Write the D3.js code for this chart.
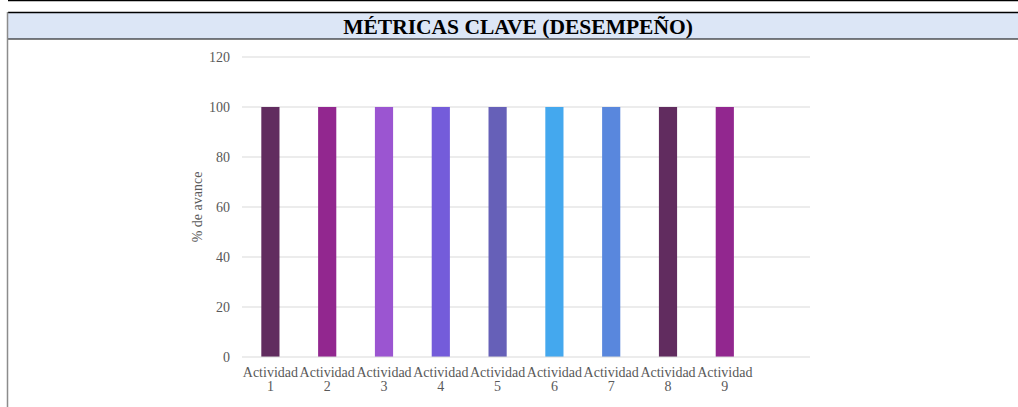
<!DOCTYPE html>
<html lang="es">
<head>
<meta charset="UTF-8">
<title>Métricas clave</title>
<script src="https://cdn.jsdelivr.net/npm/d3@7"></script>
<style>
    body { margin: 0; background: #fff; }
    svg { display: block; font-family: "Liberation Serif", "Times New Roman", serif; }
</style>
</head>
<body>
<svg width="1018" height="407"></svg>
<script>
    const categories = ["Actividad 1", "Actividad 2", "Actividad 3", "Actividad 4", "Actividad 5",
        "Actividad 6", "Actividad 7", "Actividad 8", "Actividad 9"];
    const values = [100, 100, 100, 100, 100, 100, 100, 100, 100];
    const barColors = ["#612c5f", "#92278f", "#9b55d1", "#745cda", "#6660b8",
        "#44a8ee", "#5987dd", "#612c5f", "#92278f"];
    const yTicks = [0, 20, 40, 60, 80, 100, 120];

    const svg = d3.select("svg");

    // header band with borders
    svg.append("rect").attr("x", 8).attr("y", 13).attr("width", 1010).attr("height", 26)
        .attr("fill", "#dce6f6");
    svg.append("line").attr("x1", 8).attr("x2", 1018).attr("y1", 0.5).attr("y2", 0.5)
        .attr("stroke", "#000").attr("stroke-width", 1.5);
    svg.append("line").attr("x1", 8).attr("x2", 1018).attr("y1", 12.5).attr("y2", 12.5)
        .attr("stroke", "#000").attr("stroke-width", 1.5);
    svg.append("line").attr("x1", 8).attr("x2", 1018).attr("y1", 39).attr("y2", 39)
        .attr("stroke", "#000").attr("stroke-width", 1);
    svg.append("line").attr("x1", 7.5).attr("x2", 7.5).attr("y1", 12).attr("y2", 407)
        .attr("stroke", "#8c8c8c").attr("stroke-width", 1.5);

    svg.append("text").attr("x", 518).attr("y", 34)
        .attr("text-anchor", "middle")
        .attr("font-size", "21.5px").attr("font-weight", "bold")
        .text("MÉTRICAS CLAVE (DESEMPEÑO)");

    // plot area
    const plotLeft = 242, plotRight = 810, plotTop = 57, plotBottom = 357;
    const step = 56.8;

    const y = d3.scaleLinear().domain([0, 120]).range([plotBottom, plotTop]);
    const x = d3.scaleBand().domain(categories)
        .range([plotLeft, plotLeft + step * categories.length])
        .paddingInner(0.68).paddingOuter(0.34);

    // gridlines
    svg.append("g").selectAll("line")
        .data(yTicks.filter(d => d > 0))
        .join("line")
        .attr("x1", plotLeft).attr("x2", plotRight)
        .attr("y1", d => y(d)).attr("y2", d => y(d))
        .attr("stroke", "#d9d9d9").attr("stroke-width", 1);

    // y axis labels
    const yAxis = svg.append("g").attr("transform", `translate(${plotLeft},0)`)
        .call(d3.axisLeft(y).tickValues(yTicks).tickSize(0).tickPadding(12));
    yAxis.select(".domain").remove();
    yAxis.selectAll("text").attr("font-size", "14px").attr("fill", "#595959")
        .attr("font-family", "Liberation Serif, serif");

    // bars
    svg.append("g").selectAll("rect")
        .data(categories)
        .join("rect")
        .attr("x", d => x(d))
        .attr("width", x.bandwidth())
        .attr("y", (d, i) => y(values[i]))
        .attr("height", (d, i) => plotBottom - y(values[i]))
        .attr("fill", (d, i) => barColors[i]);

    // baseline
    svg.append("line").attr("x1", plotLeft).attr("x2", plotRight)
        .attr("y1", plotBottom).attr("y2", plotBottom)
        .attr("stroke", "#d9d9d9").attr("stroke-width", 1);

    // x labels, two lines
    const xl = svg.append("g").selectAll("text")
        .data(categories)
        .join("text")
        .attr("x", d => x(d) + x.bandwidth() / 2)
        .attr("y", 377)
        .attr("text-anchor", "middle")
        .attr("font-size", "14px").attr("fill", "#595959");
    xl.append("tspan").text(d => d.split(" ")[0]);
    xl.append("tspan").attr("x", d => x(d) + x.bandwidth() / 2).attr("dy", 14)
        .text(d => d.split(" ")[1]);

    // y axis title
    svg.append("text")
        .attr("transform", `translate(202,${(plotTop + plotBottom) / 2}) rotate(-90)`)
        .attr("text-anchor", "middle")
        .attr("font-size", "14px").attr("fill", "#595959")
        .text("% de avance");
</script>
</body>
</html>
